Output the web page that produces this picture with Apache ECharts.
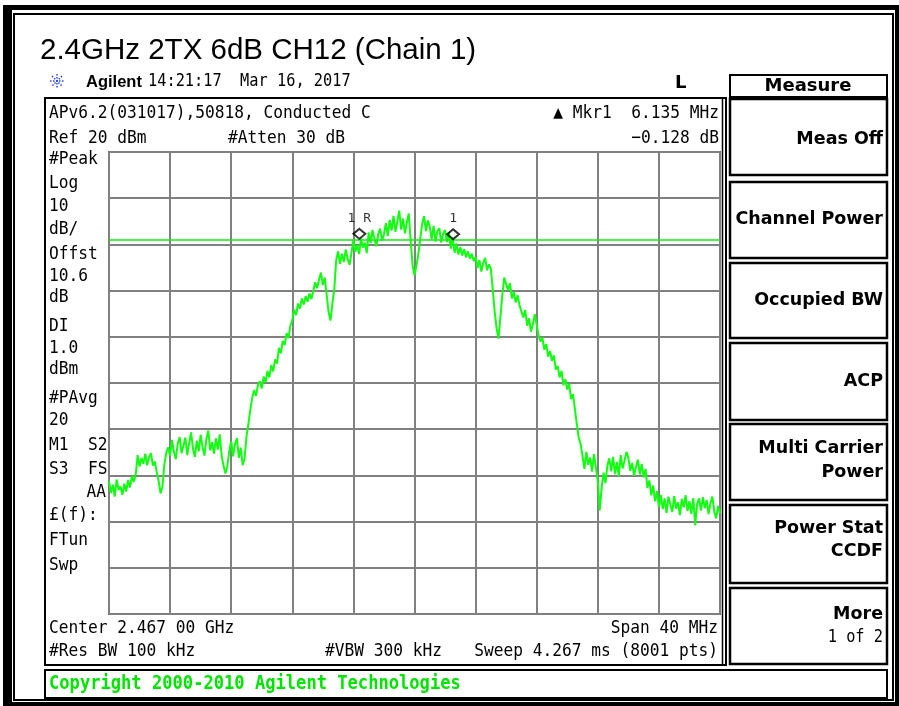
<!DOCTYPE html>
<html><head><meta charset="utf-8">
<script src="https://cdn.jsdelivr.net/npm/echarts@6/dist/echarts.min.js"></script>
<style>html,body{margin:0;padding:0;background:#fff}#c{width:899px;height:706px}</style>
</head><body><div id="c"></div>
<script>
// ---- data ----
const titleText = '2.4GHz 2TX 6dB CH12 (Chain 1)';
const centerFreqMHz = 2467;
const spanMHz = 40;
const freqStepMHz = 0.125;
const refLevelDbm = 20;
const dbPerDiv = 10;
const displayLineDbm = 1.0;
const xTicks = [-20,-16,-12,-8,-4,0,4,8,12,16,20];
const traceDbm = [
-51.2,-53.8,-52.0,-54.6,-50.9,-53.1,-52.4,-54.2,
-51.8,-53.5,-51.0,-52.6,-50.2,-51.4,-49.8,-45.6,
-48.1,-46.2,-47.5,-45.3,-47.8,-46.0,-45.2,-47.9,
-47.0,-49.3,-51.2,-53.9,-52.4,-47.6,-45.1,-43.9,
-45.8,-42.3,-44.9,-46.5,-43.1,-41.7,-45.2,-43.6,
-41.8,-45.6,-43.0,-40.7,-44.3,-46.0,-42.5,-44.8,
-41.2,-43.9,-45.7,-42.1,-40.3,-44.6,-42.8,-45.3,
-42.0,-44.4,-41.1,-45.8,-47.9,-49.6,-48.0,-44.7,
-42.6,-45.9,-43.3,-41.9,-46.2,-44.0,-47.8,-46.4,
-41.6,-38.9,-35.8,-33.2,-31.5,-32.8,-30.4,-29.6,
-31.2,-28.6,-29.9,-27.4,-28.8,-26.1,-27.5,-24.9,
-25.8,-22.4,-23.6,-20.9,-21.8,-19.2,-20.3,-17.6,
-16.4,-14.1,-15.3,-12.8,-13.9,-11.7,-13.0,-11.2,
-12.4,-10.6,-11.8,-10.1,-8.2,-9.5,-7.6,-6.1,
-8.8,-7.2,-10.9,-14.6,-16.5,-12.8,-9.6,-3.4,
-1.5,-4.2,-2.0,-3.8,-1.1,-3.2,-4.4,-1.8,
0.9,-1.6,-0.2,-2.1,1.3,-0.7,0.4,-1.9,
2.6,0.3,3.1,1.2,-0.4,2.2,3.4,0.8,
2.1,4.6,1.8,5.3,3.0,6.2,2.7,4.9,
7.3,3.2,5.6,2.4,4.8,6.7,0.8,-4.5,
-6.7,-4.6,-2.1,1.2,4.4,6.1,2.9,5.2,
3.8,1.1,4.0,0.6,2.9,3.5,0.4,2.3,
3.1,0.5,2.6,-0.9,1.4,-1.8,0.2,-2.2,
-0.6,-2.4,-1.0,-2.8,-1.5,-3.1,-2.0,-3.6,
-2.7,-5.1,-3.4,-5.9,-4.0,-2.9,-5.6,-4.3,
-5.3,-9.8,-14.6,-18.2,-20.4,-15.7,-10.9,-7.2,
-6.8,-9.9,-8.4,-11.7,-10.3,-12.6,-11.0,-13.2,
-12.9,-15.8,-14.2,-17.6,-16.0,-18.9,-17.3,-15.1,
-15.4,-19.8,-21.0,-20.2,-22.8,-21.6,-24.3,-23.1,
-25.2,-24.0,-27.1,-26.3,-28.8,-27.4,-30.5,-29.2,
-31.4,-30.2,-33.5,-32.4,-35.6,-38.9,-41.8,-43.2,
-45.8,-48.6,-44.9,-47.7,-46.1,-49.2,-45.4,-48.3,
-51.2,-57.6,-52.8,-49.4,-51.7,-47.9,-46.3,-49.1,
-46.0,-49.7,-47.1,-50.2,-45.6,-48.5,-46.8,-44.9,
-46.2,-49.0,-47.3,-50.1,-48.2,-46.6,-49.8,-47.5,
-50.4,-48.6,-52.7,-51.1,-54.3,-52.2,-55.6,-53.4,
-56.8,-54.2,-57.3,-55.0,-58.1,-54.6,-56.3,-57.9,
-54.5,-57.2,-55.8,-58.6,-55.1,-56.9,-54.3,-57.7,
-55.6,-58.3,-54.9,-60.8,-56.2,-55.0,-57.6,-54.7,
-57.1,-55.3,-58.4,-56.0,-54.6,-57.8,-59.3,-56.6,
-58.2
];
const markerNames = ['1 R', '1'];
const markerFreqMHz = [2463.39, 2469.525];
const markerDbm = [1.0, 0.9];
const leftLabels = ['#Peak','Log','10','dB/','Offst','10.6','dB','DI','1.0','dBm','#PAvg','20','M1  S2','S3  FS','AA','£(f):','FTun','Swp'];
const softkeys = [['Meas Off'],['Channel Power'],['Occupied BW'],['ACP'],['Multi Carrier','Power'],['Power Stat','CCDF'],['More','1 of 2']];

// ---- build ----
const tracePts = traceDbm.map((v, i) => [-spanMHz / 2 + i * freqStepMHz, v]);
const markerPts = markerFreqMHz.map((f, i) => [f - centerFreqMHz, markerDbm[i]]);

const MONO = '"DejaVu Sans Mono"';
const G = [];
function mono(text, x, y, align, size, weight, color) {
  size = size || 18;
  G.push({type:'text', x:x, y:y, scaleX:0.9, z:10,
    style:{text:text, font:(weight||'normal')+' '+size+'px '+MONO, fill:color||'#000', align:align||'left', verticalAlign:'middle'}});
}
function sans(text, x, y, align, font, color) {
  G.push({type:'text', x:x, y:y, z:10,
    style:{text:text, font:font, fill:color||'#000', align:align||'left', verticalAlign:'middle'}});
}
function box(x, y, w, h, lw, color) {
  G.push({type:'rect', z:9, shape:{x:x, y:y, width:w, height:h},
    style:{fill:'none', stroke:color||'#000', lineWidth:lw||2}});
}
function fillRect(x, y, w, h, color) {
  G.push({type:'rect', z:9, shape:{x:x, y:y, width:w, height:h}, style:{fill:color||'#000'}});
}
// outer frame
fillRect(3, 5, 9, 701);
fillRect(3, 5, 896, 5);
fillRect(3, 702, 896, 4);
fillRect(895, 5, 4, 701);
box(14, 14, 879, 686, 2);
// title
sans(titleText, 40, 51, 'left', '29.5px "Liberation Sans"');
// agilent line
[0, 45, 90, 135].forEach(a => {
  const r = 7, c = Math.cos(a * Math.PI / 180), s = Math.sin(a * Math.PI / 180);
  G.push({type:'line', z:10, shape:{x1:57 - r * c, y1:81 - r * s, x2:57 + r * c, y2:81 + r * s},
    style:{stroke:'#2b46ff', lineWidth:1.5, lineDash:[1.5, 1.5]}});
});
sans('Agilent', 86, 82, 'left', 'bold 16.5px "Liberation Sans"');
mono('14:21:17  Mar 16, 2017', 148, 82, 'left', 17);
sans('L', 675, 83, 'left', 'bold 18px "DejaVu Sans"');
// display box
box(45, 98, 681, 567, 2);
G.push({type:'line', z:9, shape:{x1:722.5, y1:98, x2:722.5, y2:665}, style:{stroke:'#000', lineWidth:1.5}});
mono('APv6.2(031017),50818, Conducted C', 49, 113);
mono('Ref 20 dBm', 49, 138);
mono('#Atten 30 dB', 228, 138);
mono('\u25B2 Mkr1  6.135 MHz', 719, 113, 'right');
mono('\u22120.128 dB', 719, 138, 'right');
const leftY = [159,183,206,229,254,276,297,326,348,369,398,420,445,469,492,515,540,565];
leftLabels.forEach((t, i) => {
  if (t === 'AA') mono(t, 106, leftY[i], 'right');
  else mono(t, 49, leftY[i]);
});
mono('Center 2.467 00 GHz', 49, 628);
mono('Span 40 MHz', 718, 628, 'right');
mono('#Res BW 100 kHz', 49, 651);
mono('#VBW 300 kHz', 325, 651);
mono('Sweep 4.267 ms (8001 pts)', 718, 651, 'right');
// copyright
box(45, 670, 842, 28, 2);
mono('Copyright 2000-2010 Agilent Technologies', 49, 684, 'left', 19, 'bold', '#00e400');
// right panel
box(730, 75, 157, 22, 2);
sans('Measure', 808, 86, 'center', 'bold 18px "DejaVu Sans"');
const keyTops = [99,182,263,343,424,505,588];
const keyBots = [175,258,338,420,500,583,664];
const keyY = [[139],[219],[300],[381],[448,472],[528,551],[614,638]];
softkeys.forEach((lines, i) => {
  box(730, keyTops[i], 157, keyBots[i] - keyTops[i], 2.5);
  lines.forEach((t, j) => {
    if (i === 6 && j === 1) mono(t, 883, keyY[i][j], 'right', 17);
    else sans(t, 883, keyY[i][j], 'right', 'bold 17.5px "DejaVu Sans"');
  });
});

const axisCommon = {axisLine:{show:false}, axisTick:{show:false}, axisLabel:{show:false},
  splitLine:{show:true, lineStyle:{color:'#808080', width:2}}};
const option = {
  animation:false,
  backgroundColor:'#fff',
  grid:{left:109, top:152, width:611, height:462, show:true, borderColor:'#6a6a6a', borderWidth:2},
  xAxis:Object.assign({type:'value', min:xTicks[0], max:xTicks[xTicks.length-1], interval:xTicks[1]-xTicks[0]}, axisCommon),
  yAxis:Object.assign({type:'value', min:refLevelDbm - 10 * dbPerDiv, max:refLevelDbm, interval:dbPerDiv}, axisCommon),
  series:[
    {type:'line', data:tracePts, showSymbol:false, silent:true, z:3,
     lineStyle:{color:'#11ff11', width:2},
     markLine:{symbol:'none', silent:true, label:{show:false}, animation:false,
       lineStyle:{color:'#11ee11', width:1.6, type:'solid'}, data:[{yAxis:displayLineDbm}]}},
    {type:'scatter', data:markerPts, symbol:'diamond', symbolSize:[12,10], symbolOffset:[0,-6], z:5, silent:true,
     itemStyle:{color:'rgba(0,0,0,0)', borderColor:'#000', borderWidth:2},
     label:{show:true, position:'top', distance:3, color:'#000', fontFamily:MONO, fontSize:13,
       formatter:p => markerNames[p.dataIndex]}}
  ],
  graphic:G
};
const chart = echarts.init(document.getElementById('c'), null, {renderer:'canvas'});
chart.setOption(option);
</script></body></html>
